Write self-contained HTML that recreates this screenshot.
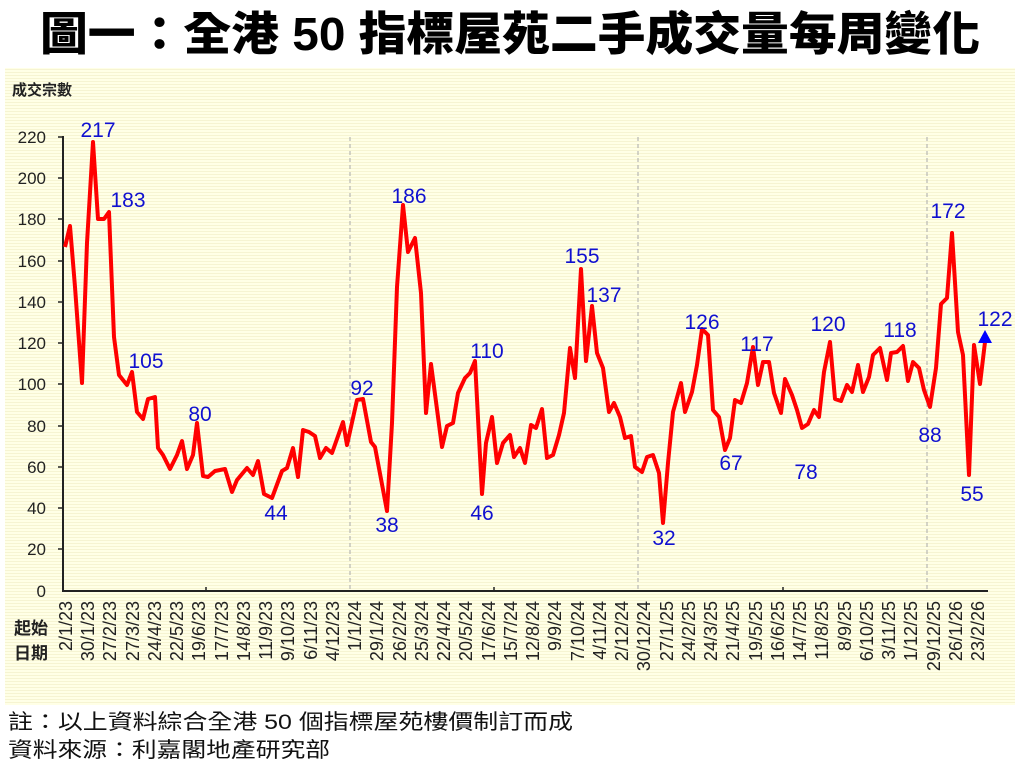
<!DOCTYPE html>
<html><head><meta charset="utf-8"><style>
html,body{margin:0;padding:0;background:#fff;}
svg{display:block;}
</style></head><body>
<svg width="1023" height="766" viewBox="0 0 1023 766" xmlns="http://www.w3.org/2000/svg" font-family="'Liberation Sans','Noto Sans CJK TC',sans-serif">
<defs>
<pattern id="st" width="4" height="3" patternUnits="userSpaceOnUse">
<rect width="4" height="3" fill="#FFFFE6"/><rect width="4" height="1" fill="#F6F4D2"/>
</pattern>
</defs>
<rect width="1023" height="766" fill="#fff"/>
<text x="40" y="50" textLength="940" lengthAdjust="spacingAndGlyphs" font-size="46" font-weight="900" fill="#000" font-family="'Liberation Sans','Noto Sans CJK TC',sans-serif">圖一：全港 50 指標屋苑二手成交量每周變化</text>
<rect x="5" y="68" width="1010" height="637" fill="url(#st)"/>
<text x="12" y="95" font-size="15" font-weight="bold" fill="#222">成交宗數</text>
<g stroke="#aaa" stroke-width="1" stroke-dasharray="4,3">
<line x1="350" y1="137" x2="350" y2="591"/><line x1="638" y1="137" x2="638" y2="591"/><line x1="927" y1="137" x2="927" y2="591"/>
</g>
<g stroke="#222" stroke-width="2">
<line x1="63" y1="136" x2="63" y2="591"/><line x1="62" y1="591" x2="988" y2="591"/>
</g>
<g stroke="#222" stroke-width="1.5">
<line x1="58" y1="137" x2="63" y2="137"/><line x1="58" y1="178" x2="63" y2="178"/><line x1="58" y1="219" x2="63" y2="219"/><line x1="58" y1="261" x2="63" y2="261"/><line x1="58" y1="302" x2="63" y2="302"/><line x1="58" y1="343" x2="63" y2="343"/><line x1="58" y1="384" x2="63" y2="384"/><line x1="58" y1="426" x2="63" y2="426"/><line x1="58" y1="467" x2="63" y2="467"/><line x1="58" y1="508" x2="63" y2="508"/><line x1="58" y1="549" x2="63" y2="549"/>
<line x1="206" y1="587" x2="206" y2="591"/><line x1="494" y1="587" x2="494" y2="591"/><line x1="783" y1="587" x2="783" y2="591"/>
</g>
<g font-size="17" fill="#222" text-anchor="end">
<text x="46" y="143">220</text><text x="46" y="184">200</text><text x="46" y="225">180</text><text x="46" y="267">160</text><text x="46" y="308">140</text><text x="46" y="349">120</text><text x="46" y="390">100</text><text x="46" y="432">80</text><text x="46" y="473">60</text><text x="46" y="514">40</text><text x="46" y="555">20</text><text x="46" y="597">0</text>
</g>
<g font-size="17" font-weight="bold" fill="#222"><text x="14" y="634">起始</text><text x="14" y="659">日期</text></g>
<g font-size="18" fill="#222" text-anchor="end">
<text transform="translate(72,601) rotate(-90)">2/1/23</text>
<text transform="translate(94,601) rotate(-90)">30/1/23</text>
<text transform="translate(116,601) rotate(-90)">27/2/23</text>
<text transform="translate(139,601) rotate(-90)">27/3/23</text>
<text transform="translate(161,601) rotate(-90)">24/4/23</text>
<text transform="translate(183,601) rotate(-90)">22/5/23</text>
<text transform="translate(205,601) rotate(-90)">19/6/23</text>
<text transform="translate(228,601) rotate(-90)">17/7/23</text>
<text transform="translate(250,601) rotate(-90)">14/8/23</text>
<text transform="translate(272,601) rotate(-90)">11/9/23</text>
<text transform="translate(294,601) rotate(-90)">9/10/23</text>
<text transform="translate(317,601) rotate(-90)">6/11/23</text>
<text transform="translate(339,601) rotate(-90)">4/12/23</text>
<text transform="translate(361,601) rotate(-90)">1/1/24</text>
<text transform="translate(383,601) rotate(-90)">29/1/24</text>
<text transform="translate(406,601) rotate(-90)">26/2/24</text>
<text transform="translate(428,601) rotate(-90)">25/3/24</text>
<text transform="translate(450,601) rotate(-90)">22/4/24</text>
<text transform="translate(472,601) rotate(-90)">20/5/24</text>
<text transform="translate(495,601) rotate(-90)">17/6/24</text>
<text transform="translate(517,601) rotate(-90)">15/7/24</text>
<text transform="translate(539,601) rotate(-90)">12/8/24</text>
<text transform="translate(561,601) rotate(-90)">9/9/24</text>
<text transform="translate(584,601) rotate(-90)">7/10/24</text>
<text transform="translate(606,601) rotate(-90)">4/11/24</text>
<text transform="translate(628,601) rotate(-90)">2/12/24</text>
<text transform="translate(650,601) rotate(-90)">30/12/24</text>
<text transform="translate(673,601) rotate(-90)">27/1/25</text>
<text transform="translate(695,601) rotate(-90)">24/2/25</text>
<text transform="translate(717,601) rotate(-90)">24/3/25</text>
<text transform="translate(739,601) rotate(-90)">21/4/25</text>
<text transform="translate(762,601) rotate(-90)">19/5/25</text>
<text transform="translate(784,601) rotate(-90)">16/6/25</text>
<text transform="translate(806,601) rotate(-90)">14/7/25</text>
<text transform="translate(828,601) rotate(-90)">11/8/25</text>
<text transform="translate(851,601) rotate(-90)">8/9/25</text>
<text transform="translate(873,601) rotate(-90)">6/10/25</text>
<text transform="translate(895,601) rotate(-90)">3/11/25</text>
<text transform="translate(917,601) rotate(-90)">1/12/25</text>
<text transform="translate(940,601) rotate(-90)">29/12/25</text>
<text transform="translate(962,601) rotate(-90)">26/1/26</text>
<text transform="translate(984,601) rotate(-90)">23/2/26</text>
</g>
<polyline fill="none" stroke="#FF0000" stroke-width="4" stroke-linejoin="round" points="65,247 70,226 75,287 82,383 87,243 93,142 98,219 104,219 109,212 114,337 119,375 127,385 132,372 137,412 143,419 148,399 155,397 158,448 163,455 170,469 177,455 182,441 187,469 193,455 197,423 203,476 208,477 215,471 225,469 232,492 237,480 247,468 253,475 258,461 264,494 272,498 282,471 287,468 293,448 298,477 303,430 309,432 315,436 320,458 326,448 332,453 343,422 347,445 357,400 363,399 371,442 375,447 387,511 392,423 397,287 403,205 408,252 415,238 421,293 426,413 431,364 442,447 447,426 453,423 458,393 465,378 470,373 475,361 482,494 486,443 492,417 497,463 503,443 510,435 514,457 520,448 525,463 531,425 536,428 542,409 547,458 553,455 559,435 564,413 570,348 575,378 581,269 586,361 592,306 597,353 603,368 609,412 614,403 620,417 625,438 631,436 635,467 642,472 647,457 653,455 659,473 663,523 668,463 673,412 681,383 685,412 692,392 697,365 702,329 708,335 713,410 719,417 725,450 730,438 735,400 741,403 747,383 753,347 758,385 763,362 769,362 774,393 781,413 785,379 792,395 797,410 802,428 808,424 814,410 819,417 824,372 830,342 835,399 841,401 847,385 852,392 858,365 863,392 869,377 873,355 880,348 887,380 891,353 897,352 903,346 908,381 913,362 919,368 924,390 930,407 936,368 941,304 947,298 952,233 958,332 963,355 969,475 974,345 980,384 985,342"/>
<polygon points="985,330 978,343 992,343" fill="#0000FF"/>
<g font-size="21" fill="#1010D0" text-anchor="middle">
<text x="98" y="137">217</text><text x="128" y="207">183</text><text x="146" y="368">105</text><text x="200" y="421">80</text><text x="276" y="520">44</text><text x="362" y="395">92</text><text x="387" y="532">38</text><text x="409" y="203">186</text><text x="487" y="358">110</text><text x="482" y="520">46</text><text x="582" y="263">155</text><text x="604" y="302">137</text><text x="664" y="545">32</text><text x="702" y="329">126</text><text x="731" y="470">67</text><text x="757" y="351">117</text><text x="806" y="479">78</text><text x="828" y="331">120</text><text x="900" y="337">118</text><text x="930" y="442">88</text><text x="948" y="218">172</text><text x="972" y="501">55</text><text x="995" y="326">122</text>
</g>
<g font-size="21" fill="#111"><text x="8" y="729" textLength="565" lengthAdjust="spacingAndGlyphs">註：以上資料綜合全港 50 個指標屋苑樓價制訂而成</text><text x="8" y="757" textLength="322" lengthAdjust="spacingAndGlyphs">資料來源：利嘉閣地產研究部</text></g>
</svg>
</body></html>
